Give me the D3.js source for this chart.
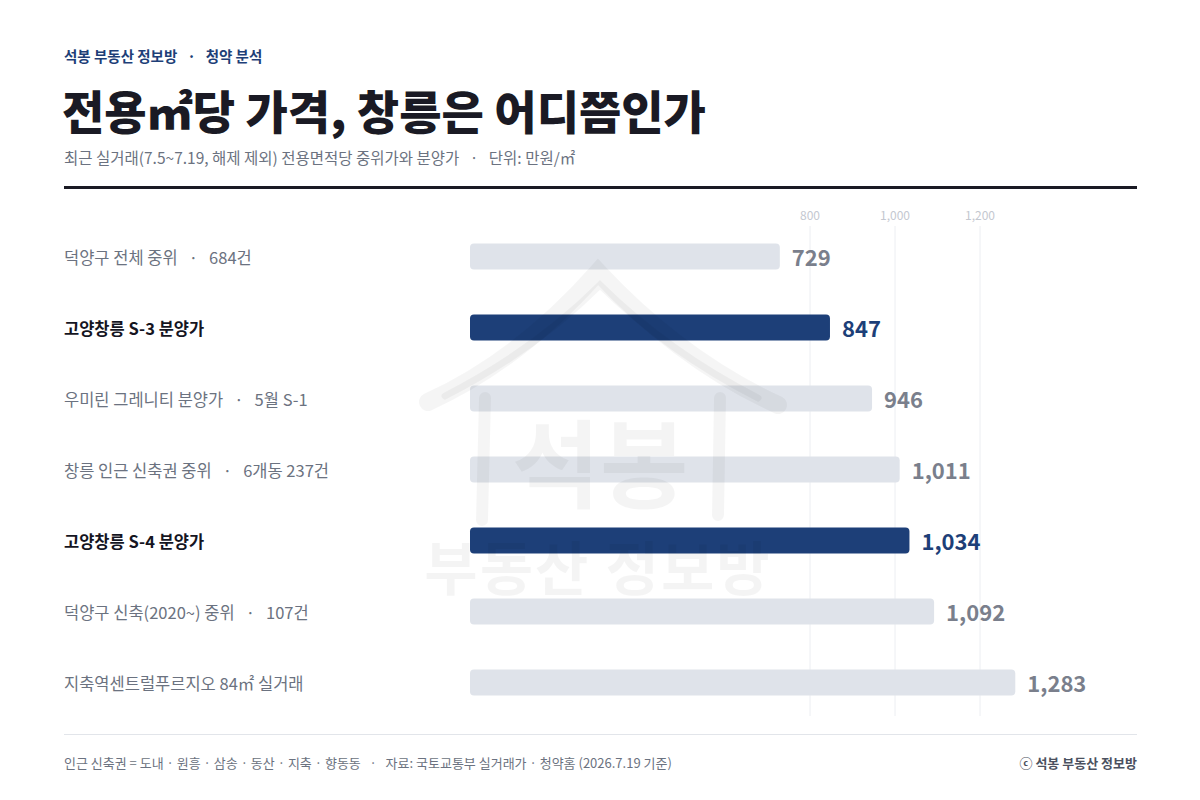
<!DOCTYPE html>
<html>
<head>
<meta charset="utf-8">
<script src="https://cdn.jsdelivr.net/npm/d3@7"></script>
<style>
  body { margin: 0; background: #fff; }
  svg { font-family: "Noto Sans CJK KR", "Noto Sans", sans-serif; }
  svg text { white-space: pre; }
</style>
</head>
<body>
<div id="chart"></div>
<script>
// Data
const labels = [
    "덕양구 전체 중위",
    "고양창릉 S-3 분양가",
    "우미린 그레니티 분양가",
    "창릉 인근 신축권 중위",
    "고양창릉 S-4 분양가",
    "덕양구 신축(2020~) 중위",
    "지축역센트럴푸르지오 84㎡ 실거래"
];
const notes = ["684건", "", "5월 S-1", "6개동 237건", "", "107건", ""];
const values = [729, 847, 946, 1011, 1034, 1092, 1283];
const highlight = [false, true, false, false, true, false, false];
const ticks = [800, 1000, 1200];

const width = 1200;
const height = 800;

const svg = d3.select("#chart")
    .append("svg")
    .attr("width", width)
    .attr("height", height);

// Header
svg.append("text")
    .attr("x", 64).attr("y", 62)
    .attr("font-size", 14.5).attr("font-weight", 700)
    .attr("fill", "#1e3f78")
    .text("석봉 부동산 정보방   ·   청약 분석");

svg.append("text")
    .attr("x", 62).attr("y", 129)
    .attr("font-size", 46).attr("font-weight", 900)
    .attr("fill", "#1a1a24")
    .text("전용㎡당 가격, 창릉은 어디쯤인가");

svg.append("text")
    .attr("x", 64).attr("y", 164)
    .attr("font-size", 15.5)
    .attr("fill", "#6b7280")
    .text("최근 실거래(7.5~7.19, 해제 제외) 전용면적당 중위가와 분양가   ·   단위: 만원/㎡");

svg.append("rect")
    .attr("x", 64).attr("y", 186)
    .attr("width", 1073).attr("height", 3)
    .attr("fill", "#1a1a24");

// Scales
const x = d3.scaleLinear().domain([0, 1400]).range([470, 1065]);
const y = d3.scaleBand()
    .domain(d3.range(labels.length))
    .range([221, 718])
    .paddingInner(0.634)
    .paddingOuter(0.317);

// Grid lines and tick labels
const grid = svg.append("g");
grid.selectAll("line")
    .data(ticks)
    .enter()
    .append("line")
    .attr("x1", d => x(d)).attr("x2", d => x(d))
    .attr("y1", 226).attr("y2", 716)
    .attr("stroke", "#eceef2")
    .attr("stroke-width", 1);

grid.selectAll("text")
    .data(ticks)
    .enter()
    .append("text")
    .attr("x", d => x(d))
    .attr("y", 220)
    .attr("text-anchor", "middle")
    .attr("font-size", 12)
    .attr("fill", "#c4c8d0")
    .text(d => d3.format(",")(d));

// Bars
svg.append("g")
    .selectAll("rect")
    .data(values)
    .enter()
    .append("rect")
    .attr("x", x(0))
    .attr("y", (d, i) => y(i))
    .attr("width", d => x(d) - x(0))
    .attr("height", y.bandwidth())
    .attr("rx", 4)
    .attr("fill", (d, i) => highlight[i] ? "#1d3f78" : "#dfe3ea");

// Value labels
svg.append("g")
    .selectAll("text")
    .data(values)
    .enter()
    .append("text")
    .attr("x", d => x(d) + 12)
    .attr("y", (d, i) => y(i) + y.bandwidth() / 2 + 9)
    .attr("font-size", 22)
    .attr("font-weight", 700)
    .attr("fill", (d, i) => highlight[i] ? "#1d3f78" : "#7a7f8c")
    .text(d => d3.format(",")(d));

// Category labels
svg.append("g")
    .selectAll("text")
    .data(labels)
    .enter()
    .append("text")
    .attr("x", 64)
    .attr("y", (d, i) => y(i) + y.bandwidth() / 2 + 7)
    .attr("font-size", 16.5)
    .attr("font-weight", (d, i) => highlight[i] ? 700 : 400)
    .attr("fill", (d, i) => highlight[i] ? "#15151f" : "#6b7280")
    .text((d, i) => notes[i] ? d + "   ·   " + notes[i] : d);

// Watermark (house roof + name), drawn faintly on top
const wm = svg.append("g")
    .attr("fill", "none")
    .attr("stroke", "#000")
    .attr("stroke-opacity", 0.04)
    .attr("stroke-linecap", "round");

wm.append("path")
    .attr("d", "M428,402 Q520,360 598,272 Q680,360 778,405")
    .attr("stroke-width", 18);
wm.append("path")
    .attr("d", "M445,396 Q535,350 600,285 Q668,352 758,398")
    .attr("stroke-width", 7);
wm.append("line")
    .attr("x1", 485).attr("y1", 398).attr("x2", 482).attr("y2", 520)
    .attr("stroke-width", 12);
wm.append("line")
    .attr("x1", 720).attr("y1", 398).attr("x2", 718).attr("y2", 515)
    .attr("stroke-width", 12);

svg.append("text")
    .attr("x", 600).attr("y", 500)
    .attr("text-anchor", "middle")
    .attr("font-size", 96)
    .attr("font-weight", 700)
    .attr("fill", "#000")
    .attr("fill-opacity", 0.045)
    .text("석봉");

svg.append("text")
    .attr("x", 598).attr("y", 590)
    .attr("text-anchor", "middle")
    .attr("font-size", 58)
    .attr("font-weight", 700)
    .attr("fill", "#000")
    .attr("fill-opacity", 0.045)
    .attr("letter-spacing", 2)
    .text("부동산 정보방");

// Footer
svg.append("line")
    .attr("x1", 64).attr("x2", 1137)
    .attr("y1", 734.5).attr("y2", 734.5)
    .attr("stroke", "#e2e5ea")
    .attr("stroke-width", 1);

svg.append("text")
    .attr("x", 64).attr("y", 768)
    .attr("font-size", 13)
    .attr("fill", "#6b7280")
    .text("인근 신축권 = 도내 · 원흥 · 삼송 · 동산 · 지축 · 향동동   ·   자료: 국토교통부 실거래가 · 청약홈 (2026.7.19 기준)");

svg.append("text")
    .attr("x", 1137).attr("y", 768)
    .attr("text-anchor", "end")
    .attr("font-size", 13)
    .attr("font-weight", 700)
    .attr("fill", "#4b5160")
    .text("ⓒ 석봉 부동산 정보방");
</script>
</body>
</html>
